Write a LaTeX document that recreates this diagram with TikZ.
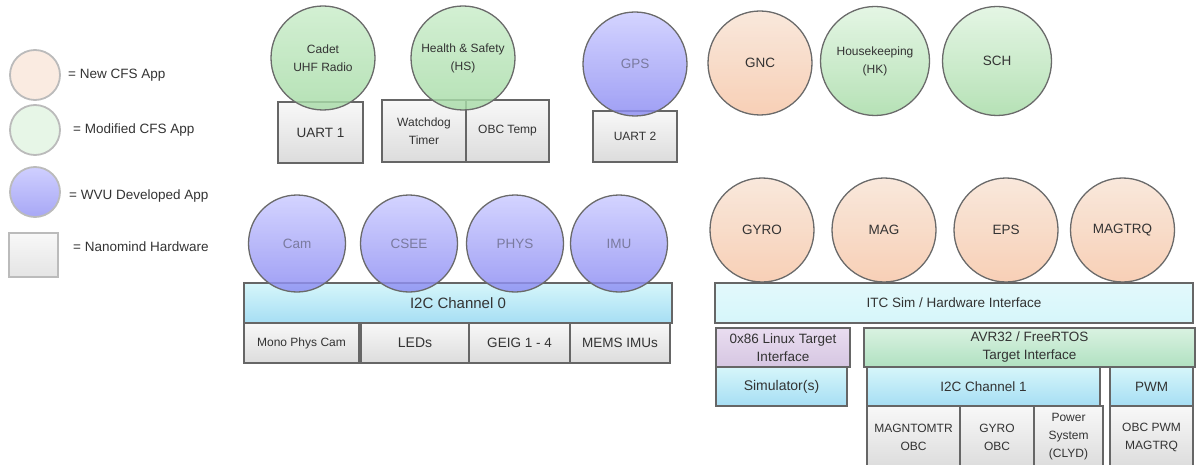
\documentclass[tikz,border=0pt]{standalone}
\usepackage{fontspec}
\setmainfont{Liberation Sans}
\definecolor{appline}{HTML}{6A6A6A}
\definecolor{boxline}{HTML}{666666}
\definecolor{labeltext}{HTML}{333333}
\definecolor{wvutext}{HTML}{7A7A9E}
\definecolor{newtop}{HTML}{F8E3D4}
\definecolor{newbot}{HTML}{F6C5A6}
\definecolor{modtop}{HTML}{C9ECC9}
\definecolor{modbot}{HTML}{A6DBA6}
\definecolor{wvutop}{HTML}{CACAFF}
\definecolor{wvubot}{HTML}{8A8AF2}
\definecolor{hwtop}{HTML}{F8F8F8}
\definecolor{hwbot}{HTML}{DCDCDC}
\definecolor{bustop}{HTML}{D6F6FA}
\definecolor{busbot}{HTML}{A6DEF4}
\definecolor{linuxtop}{HTML}{E9DDF0}
\definecolor{linuxbot}{HTML}{D6C6E2}
\definecolor{avrtop}{HTML}{D9F2E1}
\definecolor{avrbot}{HTML}{B1E1C1}
\definecolor{legline}{HTML}{BBBBBB}
\begin{document}
\begin{tikzpicture}[
    x=1pt, y=-1pt,
    font=\fontsize{13.5}{18}\selectfont,
    app/.style={circle, draw=appline, line width=1.3pt, fill opacity=0.82, text opacity=1,
                text=labeltext, align=center, inner sep=0pt, minimum size=104pt},
    newapp/.style={app, top color=newtop, bottom color=newbot},
    modapp/.style={app, top color=modtop, bottom color=modbot},
    wvuapp/.style={app, top color=wvutop, bottom color=wvubot, text=wvutext},
    hwbox/.style={rectangle, draw=boxline, line width=1.2pt, top color=hwtop, bottom color=hwbot,
                  text=labeltext, align=center, inner sep=0pt},
    busbar/.style={hwbox, top color=bustop, bottom color=busbot},
    small/.style={font=\fontsize{12}{18}\selectfont},
    legendtext/.style={anchor=west, text=labeltext, inner sep=0pt},
    legendmark/.style={line width=1.8pt, draw=legline, fill opacity=1}
]
\useasboundingbox (0,0) rectangle (1198,465);

% legend
\node[app, legendmark, minimum size=50pt, fill=newtop!70!white] (lnew) at (35,75) {};
\node[app, legendmark, minimum size=50pt, fill=modtop!45!white] (lmod) at (35,130) {};
\node[app, legendmark, minimum size=50pt, top color=wvutop!90!white, bottom color=wvubot!75!white] (lwvu) at (35,192) {};
\node[hwbox, legendmark, minimum width=49pt, minimum height=44pt, top color=hwtop, bottom color=hwtop!92!black] (lhw) at (33.5,255) {};
\node[legendtext] (tnew) at (68,75) {= New CFS App};
\node[legendtext] (tmod) at (73,130) {= Modified CFS App};
\node[legendtext] (twvu) at (69,196) {= WVU Developed App};
\node[legendtext] (thw) at (73,247) {= Nanomind Hardware};

% top row hardware
\node[hwbox, minimum width=85pt, minimum height=61pt] (uart1) at (320.5,132.5) {UART 1};
\node[hwbox, small, minimum width=84pt, minimum height=62pt] (wdt) at (424,131) {Watchdog\\Timer};
\node[hwbox, small, minimum width=83pt, minimum height=62pt] (obct) at (507.5,131) {OBC Temp};
\node[hwbox, small, minimum width=84pt, minimum height=51pt] (uart2) at (635,136.5) {UART 2};

% top row apps
\node[modapp, small] (cadet) at (323,58) {Cadet\\UHF Radio};
\node[modapp, small] (hs) at (463,58) {Health \& Safety\\(HS)};
\node[wvuapp] (gps) at (635,64) {GPS};
\node[newapp] (gnc) at (760,63) {GNC};
\node[modapp, small, minimum size=109pt, top color=modtop!60!white] (hk) at (875,61) {Housekeeping\\(HK)};
\node[modapp, minimum size=109pt, top color=modtop!60!white] (sch) at (997,61) {SCH};

% I2C channel 0 stack
\node[busbar, font=\fontsize{15}{18}\selectfont, minimum width=428pt, minimum height=40pt] (i2c0) at (458,303) {I2C Channel 0};
\node[hwbox, small, minimum width=115pt, minimum height=40pt] (mono) at (301.5,343) {Mono Phys Cam};
\node[hwbox, font=\fontsize{14}{18}\selectfont, minimum width=108pt, minimum height=40pt] (leds) at (415,343) {LEDs};
\node[hwbox, minimum width=101pt, minimum height=40pt] (geig) at (519.5,343) {GEIG 1 - 4};
\node[hwbox, minimum width=100pt, minimum height=40pt] (mems) at (620,343) {MEMS IMUs};

\node[wvuapp, minimum size=97pt] (cam) at (297,243.5) {Cam};
\node[wvuapp, minimum size=97pt] (csee) at (409,243.5) {CSEE};
\node[wvuapp, minimum size=97pt] (phys) at (515,243.5) {PHYS};
\node[wvuapp, minimum size=97pt] (imu) at (619,243.5) {IMU};

% ITC stack
\node[newapp] (gyro) at (762,230) {GYRO};
\node[newapp] (mag) at (884,230) {MAG};
\node[newapp] (eps) at (1006,230) {EPS};
\node[newapp] (magtrq) at (1122.5,230) {MAGTRQ};

\node[busbar, top color=bustop!70!white, bottom color=bustop, minimum width=478pt, minimum height=40pt] (itc) at (954,303) {ITC Sim / Hardware Interface};
\node[hwbox, top color=linuxtop, bottom color=linuxbot, minimum width=134pt, minimum height=39pt] (linux) at (783,347.5) {0x86 Linux Target\\Interface};
\node[busbar, font=\fontsize{14}{18}\selectfont, minimum width=131pt, minimum height=39pt] (sim) at (781.5,386.5) {Simulator(s)};
\node[hwbox, top color=avrtop, bottom color=avrbot, minimum width=331pt, minimum height=39pt] (avr) at (1029.5,347.5) {AVR32 / FreeRTOS\\Target Interface};
\node[busbar, minimum width=233pt, minimum height=39pt] (i2c1) at (983.5,386.5) {I2C Channel 1};
\node[busbar, minimum width=83pt, minimum height=39pt] (pwm) at (1151.5,386.5) {PWM};

\node[hwbox, small, minimum width=93pt, minimum height=62pt] (magobc) at (913.5,437) {MAGNTOMTR\\OBC};
\node[hwbox, small, minimum width=74pt, minimum height=62pt] (gyroobc) at (997,437) {GYRO\\OBC};
\node[hwbox, small, minimum width=69pt, minimum height=62pt] (power) at (1068.5,437) {Power\\System\\(CLYD)};
\node[hwbox, small, minimum width=83pt, minimum height=62pt] (obcpwm) at (1151.5,437) {OBC PWM\\MAGTRQ};
\end{tikzpicture}
\end{document}
